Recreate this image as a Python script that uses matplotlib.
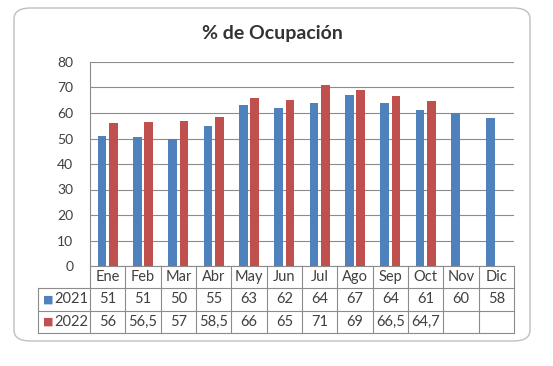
import matplotlib.pyplot as plt
from matplotlib.patches import FancyBboxPatch
from matplotlib.transforms import blended_transform_factory
import numpy as np

plt.rcParams['font.family'] = ['Lato', 'DejaVu Sans']

# data
months = ['Ene', 'Feb', 'Mar', 'Abr', 'May', 'Jun', 'Jul', 'Ago', 'Sep', 'Oct', 'Nov', 'Dic']
values_2021 = [51, 50.5, 50, 55, 63, 62, 64, 67, 64, 61, 60, 58]
values_2022 = [56, 56.5, 57, 58.5, 66, 65, 71, 69, 66.5, 64.7]
labels_2021 = ['51', '51', '50', '55', '63', '62', '64', '67', '64', '61', '60', '58']
labels_2022 = ['56', '56,5', '57', '58,5', '66', '65', '71', '69', '66,5', '64,7', '', '']
series_names = ['2021', '2022']

blue = '#4F81BD'
red = '#C0504D'
grid = '#8C8C8C'
txt = '#404040'

W, H = 553, 366
fig = plt.figure(figsize=(W / 100, H / 100), dpi=100)

# rounded chart border
border = FancyBboxPatch((14 / W, 1 - 341 / H), 516 / W, 333 / H,
                        boxstyle='round,pad=0,rounding_size=0.03',
                        transform=fig.transFigure, facecolor='white',
                        edgecolor='#BFBFBF', linewidth=1.0, zorder=-1)
fig.patches.append(border)

ax = fig.add_axes([90 / W, 1 - 266 / H, 424 / W, 204 / H])
ax.patch.set_alpha(0)
x = np.arange(len(months))
bw = 0.24
off = 0.16
ax.bar(x[:len(values_2021)] - off, values_2021, bw, color=blue, zorder=3)
ax.bar(x[:len(values_2022)] + off, values_2022, bw, color=red, zorder=3)

ax.set_xlim(-0.5, len(months) - 0.5)
ax.set_ylim(0, 80)
ax.set_yticks(range(0, 81, 10))
ax.tick_params(axis='y', length=0, pad=12, labelsize=10, labelcolor=txt)
ax.set_xticks([])
ax.yaxis.grid(True, color=grid, linewidth=0.8, zorder=0)
for s in ['top', 'right', 'bottom']:
    ax.spines[s].set_visible(False)
ax.spines['left'].set_color(grid)
ax.spines['left'].set_linewidth(0.8)

fig.text(272 / W, 1 - 33 / H, '% de Ocupación', ha='center', va='center',
         fontsize=14, fontweight='bold', color='#333333')

# data table under the axes
tr = blended_transform_factory(ax.transData, ax.transAxes)
rh = 22.3 / 204
left = -0.5 - 52 / (424 / 12)
right = len(months) - 0.5
lk = dict(color=grid, linewidth=0.8, transform=tr, clip_on=False)
ax.plot([-0.5, right], [0, 0], **lk)
for r in (1, 2, 3):
    ax.plot([left, right], [-r * rh, -r * rh], **lk)
ax.plot([left, left], [-rh, -3 * rh], **lk)
for i in range(len(months) + 1):
    ax.plot([i - 0.5, i - 0.5], [0, -3 * rh], **lk)

fs = 10.5
for i, m in enumerate(months):
    ax.text(i, -0.5 * rh, m, ha='center', va='center', fontsize=fs, color=txt, transform=tr)
    ax.text(i, -1.5 * rh, labels_2021[i], ha='center', va='center', fontsize=fs, color=txt, transform=tr)
    ax.text(i, -2.5 * rh, labels_2022[i], ha='center', va='center', fontsize=fs, color=txt, transform=tr)

for k, (name, col) in enumerate(zip(series_names, [blue, red])):
    yc = -(1.5 + k) * rh
    ax.text(left + 0.14, yc, '\u25A0', ha='left', va='center', fontsize=8, color=col,
            transform=tr, family='DejaVu Sans')
    ax.text(-0.55, yc, name, ha='right', va='center', fontsize=fs, color=txt, transform=tr)

fig.savefig('out.png', dpi=100)
